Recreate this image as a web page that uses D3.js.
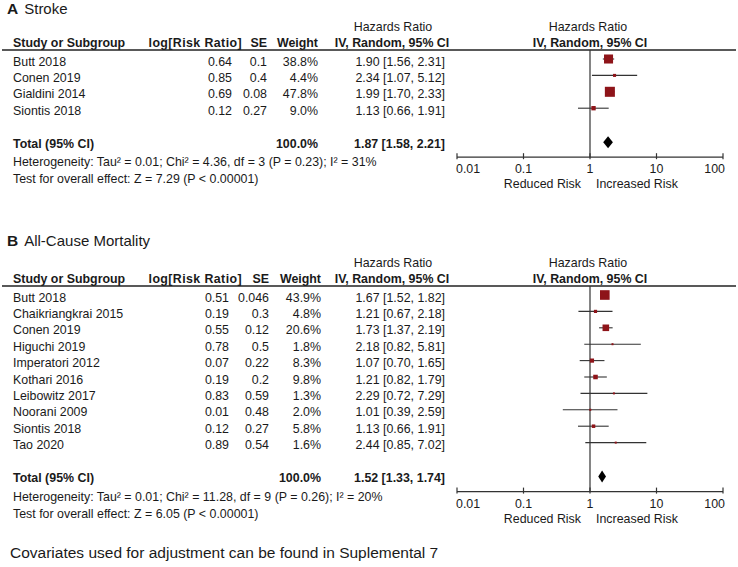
<!DOCTYPE html>
<html>
<head>
<meta charset="utf-8">
<script src="https://cdn.jsdelivr.net/npm/d3@7"></script>
<style>
  body { margin: 0; background: #fff; }
  svg text { font-family: "Liberation Sans", Arial, sans-serif; fill: #1a1a1a; }
</style>
</head>
<body>
<svg id="chart" width="738" height="567"></svg>
<script>
// panel A - stroke
const strokeStudies = ['Butt 2018', 'Conen 2019', 'Gialdini 2014', 'Siontis 2018']
const strokeLogRR = ['0.64', '0.85', '0.69', '0.12']
const strokeSE = ['0.1', '0.4', '0.08', '0.27']
const strokeWeight = [38.8, 4.4, 47.8, 9.0]
const strokeHR = [1.90, 2.34, 1.99, 1.13]
const strokeLo = [1.56, 1.07, 1.70, 0.66]
const strokeHi = [2.31, 5.12, 2.33, 1.91]
const strokeTotal = [1.87, 1.58, 2.21]
const strokeHet = 'Heterogeneity: Tau\u00b2 = 0.01; Chi\u00b2 = 4.36, df = 3 (P = 0.23); I\u00b2 = 31%'
const strokeTest = 'Test for overall effect: Z = 7.29 (P < 0.00001)'

// panel B - all-cause mortality
const mortStudies = ['Butt 2018', 'Chaikriangkrai 2015', 'Conen 2019', 'Higuchi 2019', 'Imperatori 2012',
  'Kothari 2016', 'Leibowitz 2017', 'Noorani 2009', 'Siontis 2018', 'Tao 2020']
const mortLogRR = ['0.51', '0.19', '0.55', '0.78', '0.07', '0.19', '0.83', '0.01', '0.12', '0.89']
const mortSE = ['0.046', '0.3', '0.12', '0.5', '0.22', '0.2', '0.59', '0.48', '0.27', '0.54']
const mortWeight = [43.9, 4.8, 20.6, 1.8, 8.3, 9.8, 1.3, 2.0, 5.8, 1.6]
const mortHR = [1.67, 1.21, 1.73, 2.18, 1.07, 1.21, 2.29, 1.01, 1.13, 2.44]
const mortLo = [1.52, 0.67, 1.37, 0.82, 0.70, 0.82, 0.72, 0.39, 0.66, 0.85]
const mortHi = [1.82, 2.18, 2.19, 5.81, 1.65, 1.79, 7.29, 2.59, 1.91, 7.02]
const mortTotal = [1.52, 1.33, 1.74]
const mortHet = 'Heterogeneity: Tau\u00b2 = 0.01; Chi\u00b2 = 11.28, df = 9 (P = 0.26); I\u00b2 = 20%'
const mortTest = 'Test for overall effect: Z = 6.05 (P < 0.00001)'

const axisTicks = [0.01, 0.1, 1, 10, 100]

const svg = d3.select('#chart')
const fs = '12.4px'
const rowH = 16.4

const x = d3.scaleLog().domain([0.01, 100]).range([457, 723])

function rows(studies, logRR, se, weight, hr, lo, hi) {
  return studies.map((s, i) => ({ name: s, logRR: logRR[i], se: se[i], w: weight[i], hr: hr[i], lo: lo[i], hi: hi[i] }))
}

function ci(hr, lo, hi) {
  return hr.toFixed(2) + ' [' + lo.toFixed(2) + ', ' + hi.toFixed(2) + ']'
}

function sq(w) {
  return Math.max(2, 1.45 * Math.sqrt(w))
}

function drawPanel(cfg) {
  const g = svg.append('g').attr('transform', 'translate(0,' + cfg.top + ')')
  const data = rows(cfg.studies, cfg.logRR, cfg.se, cfg.weight, cfg.hr, cfg.lo, cfg.hi)

  // title
  const t = g.append('text').attr('x', 7).attr('y', cfg.titleY).attr('font-size', '15px')
  t.append('tspan').attr('font-weight', 'bold').attr('font-size', '15.5px').text(cfg.letter)
  t.append('tspan').attr('dx', 6).text(cfg.title)

  // headers
  g.append('text').attr('x', 393).attr('y', 31).attr('text-anchor', 'middle').attr('font-size', fs).text('Hazards Ratio')
  g.append('text').attr('x', 588).attr('y', 31).attr('text-anchor', 'middle').attr('font-size', fs).text('Hazards Ratio')
  const hdr = [
    { t: 'Study or Subgroup', x: 13, a: 'start', ls: 0 },
    { t: 'log[Risk Ratio]', x: 242, a: 'end', ls: 0.4 },
    { t: 'SE', x: cfg.seX, a: 'end', ls: 0 },
    { t: 'Weight', x: cfg.wX, a: 'end', ls: 0 },
    { t: 'IV, Random, 95% CI', x: 392, a: 'middle', ls: 0 },
    { t: 'IV, Random, 95% CI', x: 590, a: 'middle', ls: 0 }
  ]
  g.selectAll('.hdr').data(hdr).enter().append('text')
    .attr('x', d => d.x).attr('y', 47).attr('text-anchor', d => d.a)
    .attr('letter-spacing', d => d.ls)
    .attr('font-size', fs).attr('font-weight', 'bold').text(d => d.t)

  g.append('line').attr('x1', 2).attr('x2', 736).attr('y1', 50).attr('y2', 50)
    .attr('stroke', '#222').attr('stroke-width', 1.4)

  const yRow = i => 61 + i * rowH
  const lastY = yRow(data.length - 1)
  const totalY = lastY + 33
  const axisY = totalY + 14

  // table rows
  const row = g.selectAll('.row').data(data).enter().append('g')
    .attr('transform', (d, i) => 'translate(0,' + (yRow(i) + 4.5) + ')')
  row.append('text').attr('x', 13).attr('font-size', fs).text(d => d.name)
  row.append('text').attr('x', cfg.lrX).attr('text-anchor', 'end').attr('font-size', fs).text(d => d.logRR)
  row.append('text').attr('x', cfg.seX).attr('text-anchor', 'end').attr('font-size', fs).text(d => d.se)
  row.append('text').attr('x', cfg.wX).attr('text-anchor', 'end').attr('font-size', fs).text(d => d.w.toFixed(1) + '%')
  row.append('text').attr('x', 445).attr('text-anchor', 'end').attr('font-size', fs).text(d => ci(d.hr, d.lo, d.hi))

  // total
  const tot = g.append('g').attr('transform', 'translate(0,' + (totalY + 4.5) + ')')
  tot.append('text').attr('x', 13).attr('font-size', fs).attr('font-weight', 'bold').text('Total (95% CI)')
  tot.append('text').attr('x', cfg.wX).attr('text-anchor', 'end').attr('font-size', fs).attr('font-weight', 'bold').text('100.0%')
  tot.append('text').attr('x', 445).attr('text-anchor', 'end').attr('font-size', fs).attr('font-weight', 'bold')
    .text(ci(cfg.total[0], cfg.total[1], cfg.total[2]))
  g.append('text').attr('x', 13).attr('y', totalY + 23).attr('font-size', fs).text(cfg.het)
  g.append('text').attr('x', 13).attr('y', totalY + 40).attr('font-size', fs).text(cfg.test)

  // null line
  g.append('line').attr('x1', x(1)).attr('x2', x(1)).attr('y1', 50).attr('y2', axisY)
    .attr('stroke', '#333').attr('stroke-width', 1.2)

  // CIs + squares
  const mk = g.selectAll('.mk').data(data).enter().append('g')
    .attr('transform', (d, i) => 'translate(0,' + (yRow(i) - 2) + ')')
  mk.append('line').attr('x1', d => x(d.lo)).attr('x2', d => x(d.hi))
    .attr('stroke', '#333').attr('stroke-width', 1.1)
  mk.append('rect')
    .attr('x', d => x(d.hr) - sq(d.w) / 2)
    .attr('y', d => -sq(d.w) / 2)
    .attr('width', d => sq(d.w))
    .attr('height', d => sq(d.w))
    .attr('fill', '#8e1419')

  // diamond
  const dy = totalY - 1
  g.append('path')
    .attr('d', 'M' + x(cfg.total[1]) + ',' + dy + 'L' + x(cfg.total[0]) + ',' + (dy - 6) +
      'L' + x(cfg.total[2]) + ',' + dy + 'L' + x(cfg.total[0]) + ',' + (dy + 6) + 'Z')
    .attr('fill', '#000')

  // axis
  g.append('line').attr('x1', x(0.01)).attr('x2', x(100)).attr('y1', axisY).attr('y2', axisY)
    .attr('stroke', '#333').attr('stroke-width', 1.2)
  g.selectAll('.tk').data(axisTicks).enter().append('line')
    .attr('x1', d => x(d)).attr('x2', d => x(d)).attr('y1', axisY - 4).attr('y2', axisY + 2)
    .attr('stroke', '#333').attr('stroke-width', 1.2)
  g.selectAll('.tl').data(axisTicks).enter().append('text')
    .attr('x', d => x(d)).attr('y', axisY + 16).attr('text-anchor', (d, i) => i === 0 ? 'start' : i === 4 ? 'end' : 'middle')
    .attr('dx', (d, i) => i === 0 ? -1 : i === 4 ? 2 : 0)
    .attr('font-size', fs).text(d => d)
  g.append('text').attr('x', 581).attr('y', axisY + 31).attr('text-anchor', 'end').attr('font-size', fs).text('Reduced Risk')
  g.append('text').attr('x', 596).attr('y', axisY + 31).attr('font-size', fs).text('Increased Risk')
}

drawPanel({
  top: 0, titleY: 14, letter: 'A', title: 'Stroke',
  studies: strokeStudies, logRR: strokeLogRR, se: strokeSE, weight: strokeWeight,
  hr: strokeHR, lo: strokeLo, hi: strokeHi, total: strokeTotal, het: strokeHet, test: strokeTest,
  lrX: 232, seX: 267, wX: 318
})

drawPanel({
  top: 236, titleY: 10, letter: 'B', title: 'All-Cause Mortality',
  studies: mortStudies, logRR: mortLogRR, se: mortSE, weight: mortWeight,
  hr: mortHR, lo: mortLo, hi: mortHi, total: mortTotal, het: mortHet, test: mortTest,
  lrX: 229, seX: 269, wX: 321
})

svg.append('text').attr('x', 10).attr('y', 558).attr('font-size', '15.5px')
  .text('Covariates used for adjustment can be found in Suplemental 7')
</script>
</body>
</html>
